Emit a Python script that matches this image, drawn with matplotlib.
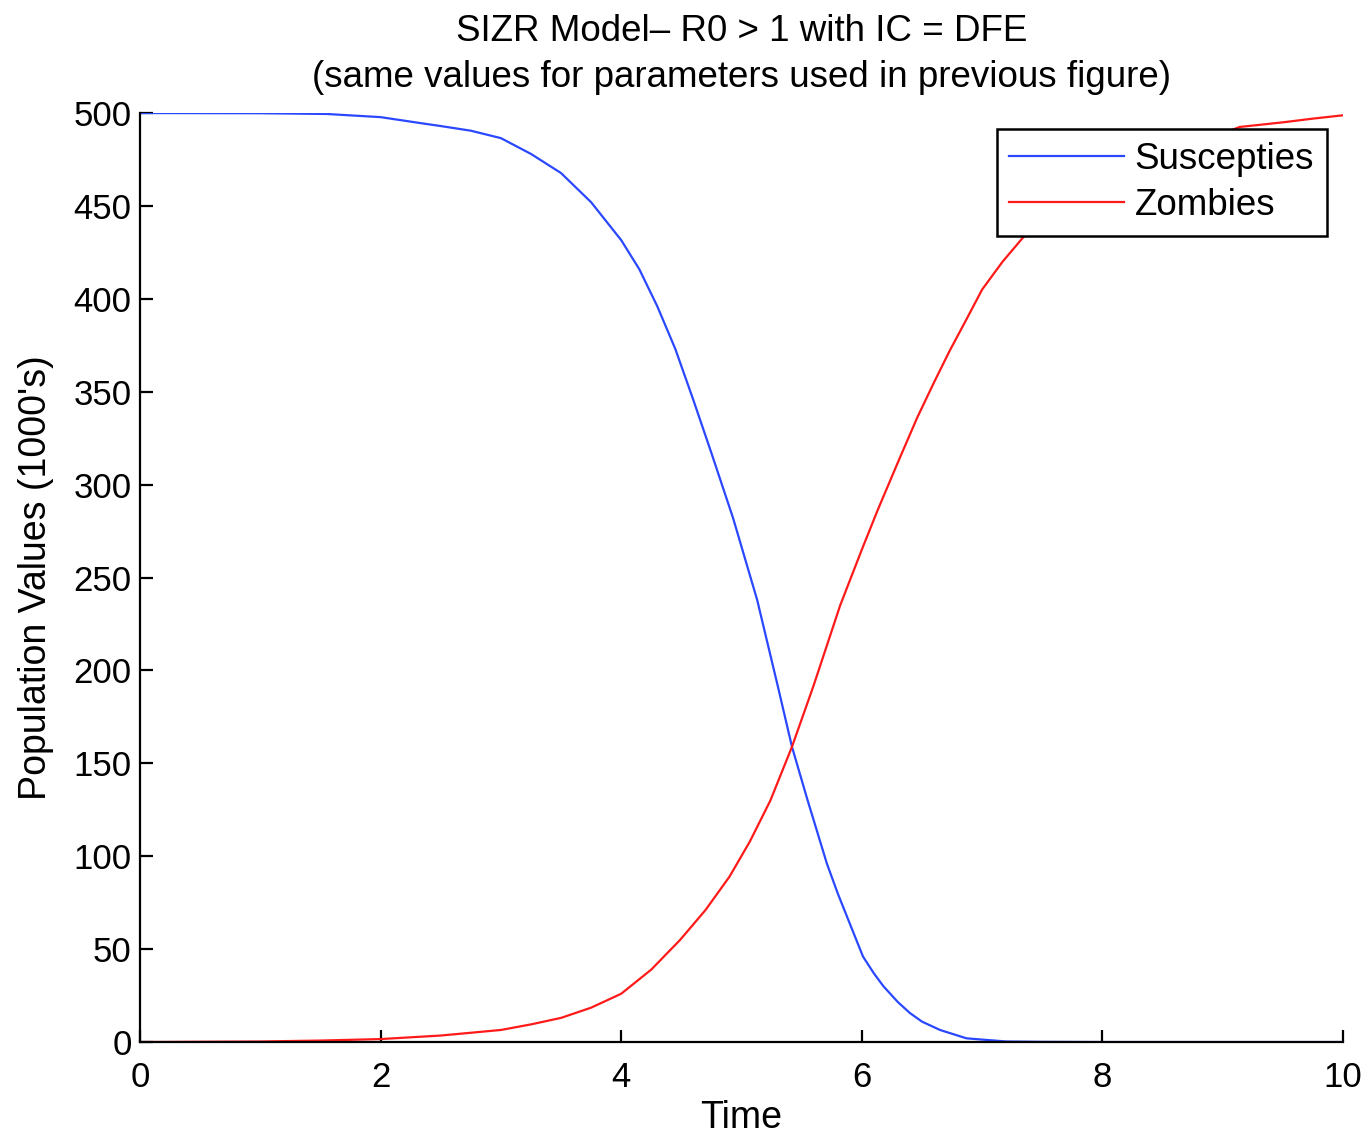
#!/usr/bin/env python3
import numpy as np
import matplotlib.pyplot as plt

# Values (population in 1000's)
t_sus = [0, 1.0, 1.55, 2.0, 2.33, 2.5, 2.75, 3.0, 3.25, 3.5, 3.75, 4.0, 4.15,
         4.3, 4.45, 4.6, 4.75, 4.93, 5.13, 5.3, 5.42, 5.55, 5.71, 5.8, 5.88,
         6.01, 6.1, 6.18, 6.3, 6.4, 6.5, 6.65, 6.87, 7.2, 7.5, 8.0, 10.0]
susceptibles = [500, 499.9, 499.5, 497.8, 494.6, 493, 490.5, 486.5, 478, 467.7,
                452, 431.6, 416, 396, 373, 345.5, 317, 282, 238, 192, 158.8,
                130, 96, 80, 67, 46, 37, 30, 21.5, 15.6, 11, 6.5, 2, 0.3, 0.1,
                0, 0]

t_zom = [0, 1.0, 1.5, 2.0, 2.5, 3.0, 3.25, 3.5, 3.75, 4.0, 4.25, 4.49, 4.7,
         4.9, 5.07, 5.24, 5.42, 5.6, 5.82, 6.0, 6.13, 6.3, 6.46, 6.6, 6.73,
         6.87, 7.0, 7.17, 7.34, 7.5, 7.75, 8.0, 8.25, 8.5, 8.75, 9.0, 9.14,
         9.5, 9.75, 10.0]
zombies = [0, 0.3, 0.8, 1.6, 3.5, 6.5, 9.5, 13, 18.5, 26, 39, 55, 71,
           89, 108, 130, 159, 192, 235, 265, 286, 312, 336, 355, 372,
           389, 405, 420, 433, 442, 453, 463, 471, 478, 484, 489, 492.5,
           495, 497, 498.8]

tick_size = 25
text_size = 26.5
plt.rcParams.update({'font.family': ['Liberation Sans', 'DejaVu Sans'],
                     'font.size': tick_size,
                     'axes.labelsize': 27,
                     'legend.fontsize': text_size,
                     'xtick.labelsize': tick_size,
                     'ytick.labelsize': tick_size})

fig = plt.figure(figsize=(13.71, 11.35), dpi=100)
ax = fig.add_axes([0.1021, 0.0819, 0.8775, 0.8185])

ax.plot(t_sus, susceptibles, color='#2a48ff', lw=1.6, label='Suscepties')
ax.plot(t_zom, zombies, color='#ff1a1a', lw=1.6, label='Zombies')

ax.set_xlim(0, 10)
ax.set_ylim(0, 500)
ax.set_xticks(np.arange(0, 11, 2))
ax.set_yticks(np.arange(0, 501, 50))
ax.spines['top'].set_visible(False)
ax.spines['right'].set_visible(False)
for s in ['left', 'bottom']:
    ax.spines[s].set_linewidth(1.6)
ax.tick_params(direction='in', length=9, width=1.6)
ax.tick_params(axis='y', pad=6)
ax.tick_params(axis='x', pad=14)

ax.set_xlabel('Time', labelpad=4)
ax.set_ylabel("Population Values (1000's)", labelpad=14)
ax.set_title('SIZR Model\u2013 R0 > 1 with IC = DFE\n'
             '(same values for parameters used in previous figure)',
             fontsize=text_size, pad=19, linespacing=1.39)

leg = ax.legend(loc='upper right', bbox_to_anchor=(0.9679, 0.8863),
                bbox_transform=fig.transFigure, borderaxespad=0,
                fancybox=False, framealpha=1, edgecolor='black',
                handlelength=3.1, handletextpad=0.3, labelspacing=0.3,
                borderpad=0.35)
leg.get_frame().set_linewidth(1.8)

fig.savefig('out.png', dpi=100)
